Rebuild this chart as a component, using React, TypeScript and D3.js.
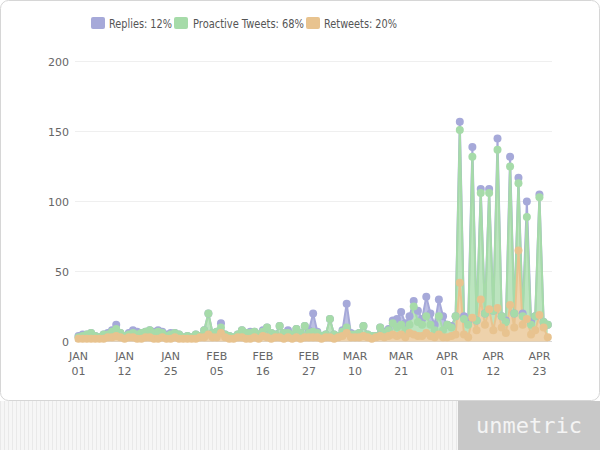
import React from "react";
import * as d3 from "d3";

const retweets = [2,2,2,2,2,2,2,3,3,4,3,2,3,3,2,2,3,3,2,2,3,2,2,3,2,2,2,2,2,3,3,5,3,3,6,3,2,2,3,3,2,2,3,2,4,3,2,3,3,2,3,2,3,2,3,3,3,3,2,3,3,2,3,4,6,3,3,3,4,3,2,3,4,3,4,5,4,5,3,6,5,4,4,6,4,3,5,3,3,4,5,42,5,3,17,8,30,12,23,8,24,10,6,26,10,65,12,16,5,8,19,10,3];
const proactive = [1,2,3,4,2,1,3,2,4,5,3,2,2,3,3,4,4,5,4,5,3,2,3,3,3,1,2,1,3,1,5,15,3,4,4,2,2,1,2,5,4,4,4,3,3,7,4,2,8,4,3,3,6,4,8,3,4,3,2,2,13,3,1,3,4,2,2,3,7,2,2,1,6,3,4,8,6,7,5,6,20,10,8,12,8,5,13,5,9,6,13,109,11,9,115,7,76,8,83,14,113,8,8,99,10,48,6,73,7,10,84,4,9];
const replies = [1,1,0,0,0,0,0,1,1,3,0,0,1,2,2,0,0,0,1,1,1,1,1,0,0,0,0,0,0,0,0,0,0,0,3,0,0,0,0,0,0,1,0,0,1,0,0,0,0,0,2,0,0,0,0,2,13,1,0,0,0,0,0,1,17,1,0,0,0,0,0,0,0,1,1,2,6,9,5,6,4,8,4,14,8,4,12,10,0,1,0,6,2,2,7,0,3,0,3,0,8,0,1,7,0,4,2,11,2,0,2,0,0];

const seriesNames = ["Replies", "Proactive Tweets", "Retweets"];
const seriesShares = ["12%", "68%", "20%"];
const seriesColors = ["#a6a9d9", "#a6dba9", "#e8c38f"];

const tickIndex = [0, 11, 22, 33, 44, 55, 66, 77, 88, 99, 110];
const tickMonth = ["JAN","JAN","JAN","FEB","FEB","FEB","MAR","MAR","APR","APR","APR"];
const tickDay = ["01","12","25","05","16","27","10","21","01","12","23"];
const yTicks = [0, 50, 100, 150, 200];

export default function App() {
  const W = 600, H = 450;
  const x = d3.scaleLinear().domain([0, retweets.length - 1]).range([78.5, 547.8]);
  const y = d3.scaleLinear().domain([0, 200]).range([341.5, 61.5]);

  const rows = retweets.map((_, i) => ({ i, retweets: retweets[i], proactive: proactive[i], replies: replies[i] }));
  const keys = ["retweets", "proactive", "replies"];
  const stacked = d3.stack<any>().keys(keys)(rows);
  const colorFor: Record<string, string> = { replies: seriesColors[0], proactive: seriesColors[1], retweets: seriesColors[2] };

  const area = d3.area<any>().x((d) => x(d.data.i)).y0((d) => y(d[0])).y1((d) => y(d[1]));
  const line = d3.line<any>().x((d) => x(d.data.i)).y((d) => y(d[1]));

  const drawOrder = [2, 1, 0]; // replies, proactive, retweets
  const font = "'DejaVu Sans', 'Lucida Grande', sans-serif";

  const legendItems = [
    { sx: 91, tx: 109, w: 63 },
    { sx: 174, tx: 193, w: 111 },
    { sx: 306, tx: 324, w: 73 },
  ];

  return (
    <div style={{ position: "absolute", left: 0, top: 0 }}>
      <svg width={W} height={H} style={{ display: "block" }}>
        <defs>
          <pattern id="stripes" width="4" height="10" patternUnits="userSpaceOnUse">
            <rect width="4" height="10" fill="#f6f6f6" />
            <rect x="0" width="1" height="10" fill="#e9e9e9" />
          </pattern>
        </defs>
        <rect x={0} y={0} width={W} height={H} fill="#ffffff" />
        <rect x={0} y={401} width={458} height={49} fill="url(#stripes)" />
        <rect x={458} y={401} width={142} height={49} fill="#c8c8c8" />
        <text x={529} y={433} textAnchor="middle" fontFamily="'DejaVu Sans Mono', monospace" fontSize={22} fill="#f4f4f4">unmetric</text>
        <rect x={0.5} y={0.5} width={599} height={400} rx={8} fill="none" stroke="#d6d6d6" />

        {/* grid */}
        {yTicks.filter((t) => t > 0).map((t) => (
          <line key={t} x1={75} x2={552} y1={y(t)} y2={y(t)} stroke="#efefef" strokeWidth={1} />
        ))}
        {yTicks.map((t) => (
          <text key={"yl" + t} x={69} y={y(t) + 4} textAnchor="end" fontFamily={font} fontSize={11} fill="#666">{t}</text>
        ))}
        <line x1={75} x2={552} y1={341.5} y2={341.5} stroke="#d8d8d8" />

        {/* series */}
        {drawOrder.map((si) => {
          const s = stacked[si];
          const c = colorFor[s.key];
          return (
            <g key={s.key}>
              <path d={area(s) || ""} fill={c} fillOpacity={0.75} />
              <path d={line(s) || ""} fill="none" stroke={c} strokeWidth={2} />
            </g>
          );
        })}
        {drawOrder.map((si) => {
          const s = stacked[si];
          const c = colorFor[s.key];
          return (
            <g key={s.key + "m"}>
              {s.map((d: any, k: number) => (
                <circle key={k} cx={x(d.data.i)} cy={y(d[1])} r={4} fill={c} />
              ))}
            </g>
          );
        })}

        {/* x labels */}
        {tickIndex.map((ti, k) => (
          <g key={"xt" + k}>
            <text x={x(ti)} y={360} textAnchor="middle" fontFamily={font} fontSize={11} fill="#666">{tickMonth[k]}</text>
            <text x={x(ti)} y={375} textAnchor="middle" fontFamily={font} fontSize={11} fill="#666">{tickDay[k]}</text>
          </g>
        ))}

        {/* legend */}
        {seriesNames.map((n, k) => (
          <g key={"lg" + k}>
            <rect x={legendItems[k].sx} y={17} width={14} height={12} rx={2} fill={seriesColors[k]} />
            <text x={legendItems[k].tx} y={27.5} fontFamily={font} fontSize={12} fill="#555"
              textLength={legendItems[k].w} lengthAdjust="spacingAndGlyphs">{`${n}: ${seriesShares[k]}`}</text>
          </g>
        ))}
      </svg>
    </div>
  );
}
